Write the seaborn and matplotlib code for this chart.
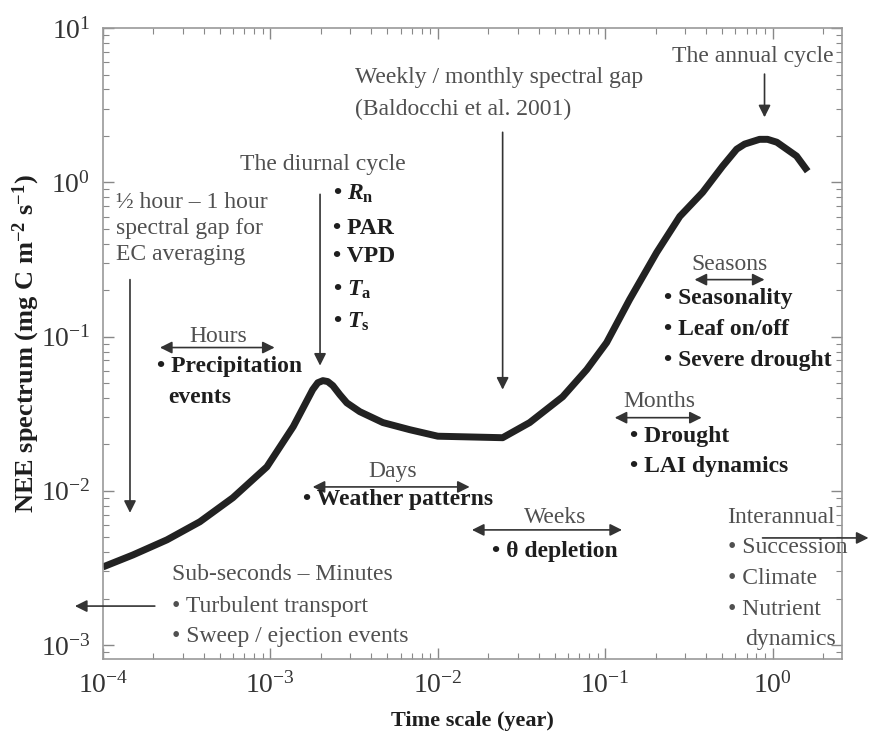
import matplotlib
matplotlib.use("Agg")
import matplotlib.pyplot as plt
import seaborn as sns
import pandas as pd

# NEE spectrum (time scale in years)
time_scale = [1.00e-4, 1.51e-4, 2.41e-4, 3.79e-4, 5.97e-4, 9.53e-4, 1.37e-3,
              1.79e-3, 1.92e-3, 2.06e-3, 2.20e-3, 2.36e-3, 2.60e-3, 2.86e-3,
              3.42e-3, 4.70e-3, 6.81e-3, 1.00e-2, 2.44e-2, 3.54e-2, 5.57e-2,
              7.76e-2, 0.102, 0.140, 0.203, 0.279, 0.382, 0.502, 0.610, 0.681,
              0.836, 0.933, 1.06, 1.39, 1.62]
nee_spectrum = [3.21e-3, 3.84e-3, 4.81e-3, 6.30e-3, 9.02e-3, 1.43e-2, 2.61e-2,
                4.53e-2, 5.02e-2, 5.18e-2, 5.11e-2, 4.81e-2, 4.20e-2, 3.72e-2,
                3.26e-2, 2.77e-2, 2.49e-2, 2.26e-2, 2.21e-2, 2.77e-2, 4.07e-2,
                6.11e-2, 0.0914, 0.174, 0.351, 0.601, 0.861, 1.27, 1.64, 1.77,
                1.90, 1.90, 1.82, 1.48, 1.18]

df = pd.DataFrame({"time": time_scale, "nee": nee_spectrum})

sns.set_theme(style="ticks")
plt.rcParams["font.family"] = ["Liberation Serif", "DejaVu Serif"]
plt.rcParams["mathtext.fontset"] = "custom"
plt.rcParams["mathtext.rm"] = "Liberation Serif"
plt.rcParams["mathtext.it"] = "Liberation Serif:italic:bold"
plt.rcParams["mathtext.bf"] = "Liberation Serif:bold"

GRAY = "#505050"
DARK = "#1e1e1e"
FS = 17

fig = plt.figure(figsize=(8.69, 7.39), dpi=100)
ax = fig.add_axes([0.1185, 0.108, 0.8505, 0.854])

sns.lineplot(data=df, x="time", y="nee", ax=ax, color="#222222", linewidth=5.0,
             solid_capstyle="butt")

ax.set_xscale("log")
ax.set_yscale("log")
ax.set_xlim(1e-4, 2.6)
ax.set_ylim(8.1e-4, 10)

for s in ax.spines.values():
    s.set_color("#999999")
    s.set_linewidth(1.2)
    s.set_visible(True)
ax.tick_params(which="both", direction="in", top=True, right=True, colors="#888888",
               labelcolor="#333333", labelsize=20)
ax.tick_params(which="major", length=8, width=1.0, pad=9)
ax.tick_params(which="minor", length=4, width=0.8)

ax.set_xlabel("Time scale (year)", fontsize=16, fontweight="bold", color=DARK, labelpad=9)
ax.set_ylabel(r"NEE spectrum (mg C m$^{\mathbf{-2}}$ s$^{\mathbf{-1}}$)", fontsize=19,
              fontweight="bold", color=DARK)
ax.yaxis.set_label_coords(-0.083, 0.5)


def gray(x, y, s, ha="left"):
    ax.text(x, y, s, fontsize=FS, color=GRAY, ha=ha, va="center")


def bold(x, y, s, ha="left"):
    ax.text(x, y, s, fontsize=FS, color=DARK, ha=ha, va="center", fontweight="bold")


def arrow(x0, y0, x1, y1, style="-|>"):
    ax.annotate("", xy=(x1, y1), xytext=(x0, y0), annotation_clip=False,
                arrowprops=dict(arrowstyle=style, color="#333333", lw=1.2,
                                mutation_scale=18, shrinkA=0, shrinkB=0))


# half-hour gap
ax.text(1.20e-4, 0.86, "½ hour – 1 hour\nspectral gap for\nEC averaging",
        fontsize=FS, color=GRAY, ha="left", va="top", linespacing=1.3)
arrow(1.45e-4, 0.234, 1.45e-4, 7.2e-3)

# diurnal cycle
gray(2.06e-3, 1.31, "The diurnal cycle", ha="center")
bold(2.36e-3, 0.836, r"• $R_\mathbf{n}$")
bold(2.36e-3, 0.503, "• PAR")
bold(2.36e-3, 0.331, "• VPD")
bold(2.36e-3, 0.202, r"• $T_\mathbf{a}$")
bold(2.36e-3, 0.125, r"• $T_\mathbf{s}$")
arrow(1.98e-3, 0.836, 1.98e-3, 0.0648)

# hours
gray(4.87e-4, 0.10, "Hours", ha="center")
arrow(2.19e-4, 0.0849, 1.06e-3, 0.0849, "<|-|>")
bold(2.10e-4, 0.0638, "• Precipitation")
bold(2.44e-4, 0.0402, "events")

# weekly / monthly gap
gray(3.19e-3, 4.81, "Weekly / monthly spectral gap")
gray(3.19e-3, 2.98, "(Baldocchi et al. 2001)")
arrow(0.0244, 2.11, 0.0244, 0.0453)

# annual cycle
gray(0.249, 6.58, "The annual cycle")
arrow(0.895, 5.03, 0.895, 2.64)

# seasons
gray(0.553, 0.294, "Seasons", ha="center")
arrow(0.342, 0.234, 0.895, 0.234, "<|-|>")
bold(0.226, 0.177, "• Seasonality")
bold(0.226, 0.111, "• Leaf on/off")
bold(0.226, 0.0699, "• Severe drought")

# months
gray(0.211, 0.0378, "Months", ha="center")
arrow(0.114, 0.0298, 0.377, 0.0298, "<|-|>")
bold(0.140, 0.0224, "• Drought")
bold(0.140, 0.0143, "• LAI dynamics")

# days
gray(5.38e-3, 0.0133, "Days", ha="center")
arrow(1.79e-3, 0.0106, 0.0155, 0.0106, "<|-|>")
bold(1.56e-3, 8.74e-3, "• Weather patterns")

# weeks
gray(0.050, 6.68e-3, "Weeks", ha="center")
arrow(0.0160, 5.58e-3, 0.126, 5.58e-3, "<|-|>")
bold(0.0210, 4.02e-3, "• θ depletion")

# interannual
gray(0.538, 6.68e-3, "Interannual")
gray(0.538, 4.27e-3, "• Succession")
gray(0.538, 2.69e-3, "• Climate")
gray(0.538, 1.71e-3, "• Nutrient")
gray(0.681, 1.08e-3, "dynamics")
arrow(0.871, 4.95e-3, 3.74, 4.95e-3)

# sub-seconds
gray(2.58e-4, 2.85e-3, "Sub-seconds – Minutes")
gray(2.58e-4, 1.79e-3, "• Turbulent transport")
gray(2.58e-4, 1.14e-3, "• Sweep / ejection events")
arrow(2.04e-4, 1.79e-3, 6.8e-5, 1.79e-3)

plt.savefig("out.png", dpi=100)
plt.close()
